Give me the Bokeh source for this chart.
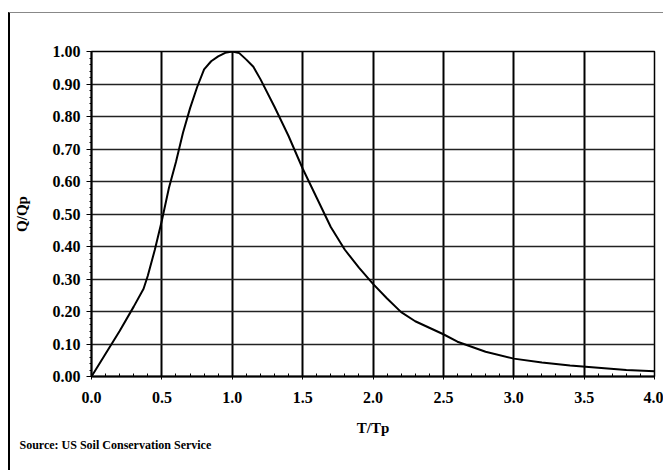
from bokeh.plotting import figure
from bokeh.embed import file_html
from bokeh.resources import INLINE
from bokeh.models import Range1d, FixedTicker, NumeralTickFormatter, Title, Grid

t_tp = [0.0, 0.1, 0.2, 0.3, 0.37, 0.4, 0.45, 0.5, 0.55, 0.6, 0.65, 0.7, 0.75, 0.8, 0.85, 0.9,
        0.95, 1.0, 1.05, 1.1, 1.15, 1.2, 1.3, 1.4, 1.5, 1.6, 1.7, 1.8, 1.9, 2.0, 2.1, 2.2,
        2.3, 2.4, 2.5, 2.6, 2.8, 3.0, 3.2, 3.4, 3.6, 3.8, 4.0]
q_qp = [0.0, 0.07, 0.14, 0.215, 0.27, 0.31, 0.39, 0.48, 0.58, 0.66, 0.75, 0.825, 0.89, 0.945,
        0.97, 0.985, 0.996, 1.0, 0.995, 0.975, 0.953, 0.915, 0.83, 0.74, 0.64, 0.55, 0.46,
        0.39, 0.335, 0.285, 0.24, 0.198, 0.17, 0.15, 0.13, 0.107, 0.076, 0.055, 0.043,
        0.034, 0.027, 0.02, 0.016]

x_ticks = [0.0, 0.5, 1.0, 1.5, 2.0, 2.5, 3.0, 3.5, 4.0]
y_ticks = [0.0, 0.1, 0.2, 0.3, 0.4, 0.5, 0.6, 0.7, 0.8, 0.9, 1.0]
x_title = "T/Tp"
y_title = "Q/Qp"
source_text = "Source: US Soil Conservation Service"

FONT = "Liberation Serif"

p = figure(width=655, height=458, output_backend="svg", toolbar_location=None,
           x_range=Range1d(0, 4), y_range=Range1d(0, 1),
           min_border_left=80, min_border_right=11, min_border_top=38, min_border_bottom=95)
p.styles = {"margin-left": "8px", "margin-top": "12px",
            "border-left": "2px solid #000", "border-top": "1px solid #888"}
p.background_fill_color = "white"
p.border_fill_color = "white"
p.outline_line_color = "#000"
p.outline_line_width = 1.5

p.line(t_tp, q_qp, line_color="black", line_width=2)

p.xaxis.ticker = FixedTicker(ticks=x_ticks, minor_ticks=[i / 10 for i in range(41)])
p.yaxis.ticker = FixedTicker(ticks=y_ticks, minor_ticks=[i / 50 for i in range(51)])
p.xaxis.formatter = NumeralTickFormatter(format="0.0")
p.yaxis.formatter = NumeralTickFormatter(format="0.00")

for ax in (p.xaxis, p.yaxis):
    ax.axis_line_color = "black"
    ax.axis_line_width = 2
    ax.major_tick_line_color = "black"
    ax.minor_tick_line_color = "black"
    ax.major_label_text_font = FONT
    ax.major_label_text_font_style = "bold"
    ax.major_label_text_font_size = "16px"
    ax.major_label_text_color = "black"
    ax.axis_label_text_font = FONT
    ax.axis_label_text_font_style = "bold"
    ax.axis_label_text_font_size = "15px"
    ax.axis_label_text_color = "black"

p.xaxis.axis_label = x_title
p.yaxis.axis_label = y_title
p.xaxis.major_tick_out = 3
p.xaxis.major_tick_in = 0
p.xaxis.minor_tick_in = 3
p.xaxis.minor_tick_out = 0
p.xaxis.major_label_standoff = 12
p.xaxis.axis_label_standoff = 14
p.yaxis.major_tick_out = 5
p.yaxis.major_tick_in = 0
p.yaxis.minor_tick_out = 2
p.yaxis.minor_tick_in = 0
p.yaxis.major_label_standoff = 6
p.yaxis.axis_label_standoff = 20

for g in p.center:
    if isinstance(g, Grid):
        if g.dimension == 0:
            g.grid_line_color = "black"
            g.grid_line_width = 2
        else:
            g.grid_line_color = "#222222"
            g.grid_line_width = 1.5

src = Title(text=source_text, align="left", offset=-72, standoff=-5,
            text_font=FONT, text_font_style="bold", text_font_size="12px",
            text_color="black")
p.add_layout(src, "below")

open("out.html", "w").write(file_html(p, INLINE))
